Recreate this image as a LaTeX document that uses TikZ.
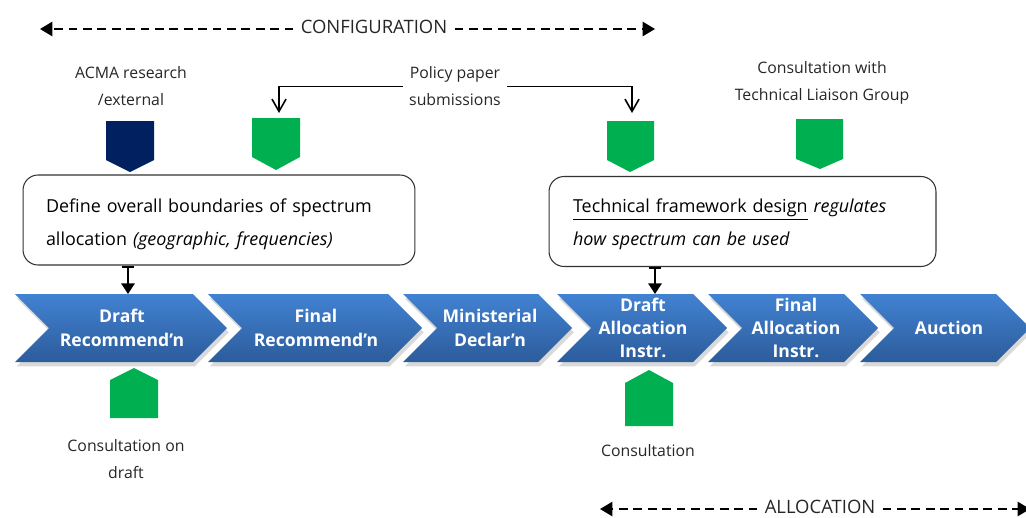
\documentclass[tikz,border=0pt]{standalone}
\usepackage{fontspec}
\setmainfont{Open Sans}
\usetikzlibrary{arrows.meta,shadows}

\definecolor{chevtop}{RGB}{66,130,210}
\definecolor{chevbot}{RGB}{44,92,155}
\definecolor{tabgreen}{RGB}{0,176,80}
\definecolor{tabnavy}{RGB}{0,32,96}

\tikzset{
  chev/.style={top color=chevtop, bottom color=chevbot,
    drop shadow={opacity=0.3, shadow xshift=1pt, shadow yshift=-2.5pt}},
  chevtext/.style={text=white, align=center,
    font=\fontsize{10}{13.3}\selectfont\bfseries},
  note/.style={align=center, text=black!85, inner sep=1pt,
    font=\fontsize{9}{15.3}\selectfont},
  phasetext/.style={text=black!85, inner xsep=0.14cm,
    font=\fontsize{10.5}{12}\selectfont},
  phase/.style={line width=1.3pt, dash pattern=on 5pt off 3.2pt,
    -{Triangle[length=7pt,width=8pt]}},
  infobox/.style={draw=black!80, line width=0.6pt, rounded corners=0.3cm,
    minimum height=1.8cm},
  boxtext/.style={align=left, inner sep=0pt,
    font=\fontsize{10.2}{18.7}\selectfont},
  feed/.style={line width=1.2pt, {Bar[width=7pt]}-{Triangle[length=6pt,width=7.5pt]}},
  feedline/.style={line width=0.6pt, -{Straight Barb[length=7pt,width=8pt,line width=0.9pt]}}
}

\begin{document}
\begin{tikzpicture}[x=0.02cm, y=-0.02cm]
    \useasboundingbox (0,0) rectangle (1026,517);

    % process chevrons
    \foreach \l/\r in {15/227, 208/422, 403/572, 557/727, 708/878, 860/1030}
        \path[chev] (\l,294) -- (\r-34,294) -- (\r,328) -- (\r-34,362)
            -- (\l,362) -- (\l+34,328) -- cycle;
    \node[chevtext] (c1) at (122,328) {Draft\\Recommend'n};
    \node[chevtext] (c2) at (316,328) {Final\\Recommend'n};
    \node[chevtext] (c3) at (490,328) {Ministerial\\Declar'n};
    \node[chevtext] (c4) at (643,328) {Draft\\Allocation\\Instr.};
    \node[chevtext] (c5) at (796,328) {Final\\Allocation\\Instr.};
    \node[chevtext] (c6) at (949,328) {Auction};
    \coordinate (c1top) at (128,294);
    \coordinate (c4top) at (655,294);

    % input tabs
    \fill[tabnavy]  (106,121) -- (154,121) -- (154,160) -- (130,172) -- (106,160) -- cycle;
    \fill[tabgreen] (252,118) -- (300,118) -- (300,157) -- (276,170) -- (252,157) -- cycle;
    \fill[tabgreen] (607,121) -- (654,121) -- (654,160) -- (630,172) -- (607,160) -- cycle;
    \fill[tabgreen] (796,119) -- (843,119) -- (843,159) -- (820,169) -- (796,159) -- cycle;
    \fill[tabgreen] (110,418) -- (158,418) -- (158,380) -- (134,368) -- (110,380) -- cycle;
    \fill[tabgreen] (625,426) -- (673,426) -- (673,383) -- (649,370) -- (625,383) -- cycle;
    \coordinate (g1in) at (279,113);
    \coordinate (g2in) at (632,113);

    % boxes
    \node[infobox, minimum width=7.84cm] (bound) at (219,220) {};
    \node[boxtext, text width=6.92cm] (boundtxt) at (219,224)
        {Define overall boundaries of spectrum\\allocation \textit{(geographic, frequencies)}};
    \node[infobox, minimum width=7.74cm] (tech) at (742.5,221.5) {};
    \node[boxtext, text width=6.78cm] (techtxt) at (742.5,224.5)
        {\underline{Technical framework design} \textit{regulates}\\\textit{how spectrum can be used}};
    \draw[feed] (bound.south -| c1top) -- (c1top);
    \draw[feed] (tech.south -| c4top) -- (c4top);

    % labels
    \node[note] (acma) at (131,86.5) {ACMA research\\/external};
    \node[note, inner xsep=0.12cm] (policy) at (455,86.5) {Policy paper\\submissions};
    \node[note] (tlg) at (822,82.5) {Consultation with\\Technical Liaison Group};
    \node[note] (cdraft) at (126,459.5) {Consultation on\\draft};
    \node[note] (consult) at (648,451) {Consultation};
    \draw[feedline] (policy.west) -| (g1in);
    \draw[feedline] (policy.east) -| (g2in);

    % phases
    \node[phasetext] (config) at (374,27) {CONFIGURATION};
    \coordinate (cfgL) at (40,29);
    \coordinate (cfgR) at (655,29);
    \draw[phase] (config.west |- cfgL) -- (cfgL);
    \draw[phase] (config.east |- cfgR) -- (cfgR);
    \node[phasetext] (alloc) at (820,507) {ALLOCATION};
    \coordinate (allL) at (600,509);
    \coordinate (allR) at (1030,509);
    \draw[phase] (alloc.west |- allL) -- (allL);
    \draw[phase] (alloc.east |- allR) -- (allR);
\end{tikzpicture}
\end{document}
